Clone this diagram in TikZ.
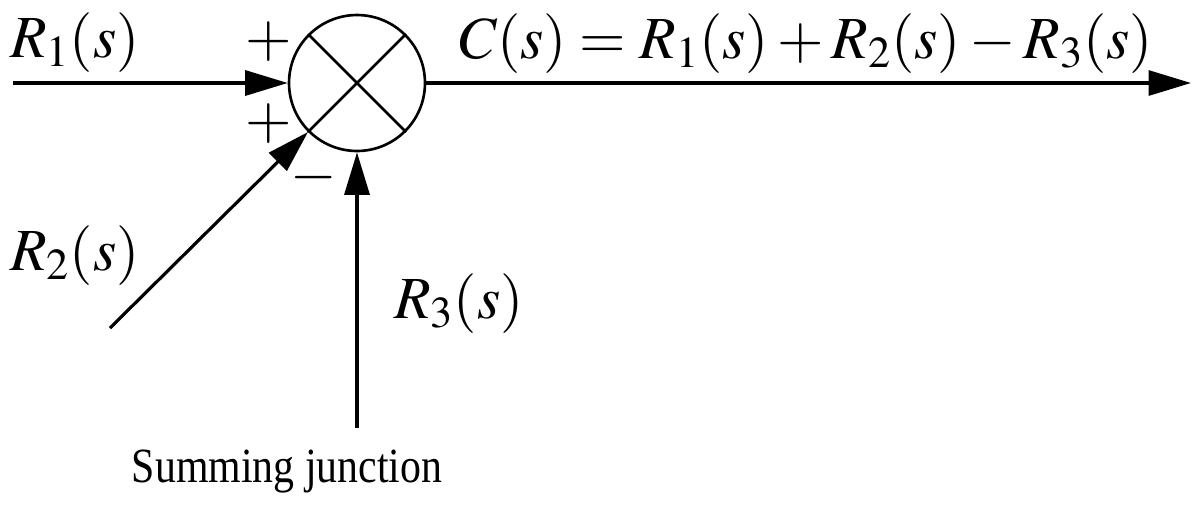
\documentclass[tikz,border=0pt]{standalone}
\usepackage{mathptmx}
\usepackage[no-math]{fontspec}
\setmainfont{Liberation Serif}
\usepackage{graphicx}
\usetikzlibrary{arrows.meta, positioning}

\begin{document}
\begin{tikzpicture}[x=0.02cm, y=-0.02cm, line width=1.8pt,
  sig/.style={-{Triangle[length=0.85cm,width=0.5cm]}},
  lbl/.style={inner sep=0pt, font=\fontsize{34}{40}\selectfont}]
  \useasboundingbox (0,0) rectangle (1193,505);

  % summing junction
  \node[draw, circle, minimum size=2.72cm, inner sep=0pt, line width=1.5pt] (sum) at (357,83) {};
  \draw[line width=1.5pt] (sum.45) -- (sum.225) (sum.135) -- (sum.-45);

  % free ends of the signals
  \coordinate (r1in) at (13,83);
  \coordinate (r2in) at (110,328);
  \coordinate (r3in) at (357,428);
  \coordinate (cout) at (1191,83);

  \draw[sig] (r1in) -- (sum.west);
  \draw[sig] (r2in) -- (sum.225);
  \draw[sig] (r3in) -- (sum.south);
  \draw[sig] (sum.east) -- (cout);

  % labels
  \node[lbl] (r1) at (75,43) {$R_1(s)$};
  \node[lbl] (plusa) at (269,42) {$+$};
  \node[lbl] (plusb) at (269,124) {$+$};
  \node[lbl] (minus) at (314,178) {$-$};
  \node[lbl] (cs) at (806,44) {$C(s) = R_1(s) + R_2(s) - R_3(s)$};
  \node[lbl] (r2) at (75,256) {$R_2(s)$};
  \node[lbl] (r3) at (459,304) {$R_3(s)$};
  \node[lbl, font=\fontsize{28}{34}\selectfont] (title) at (287,472) {\scalebox{0.85}[1]{Summing junction}};
\end{tikzpicture}
\end{document}
